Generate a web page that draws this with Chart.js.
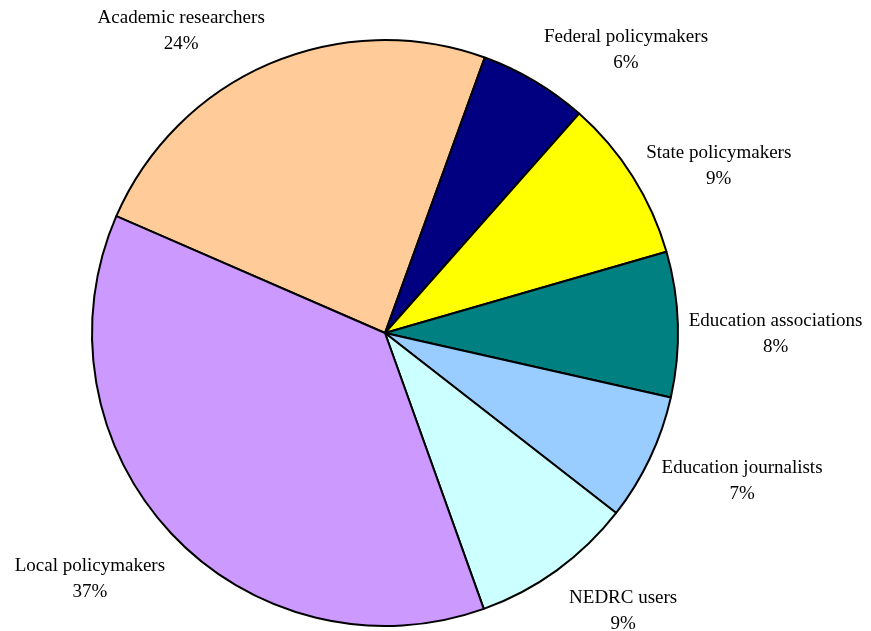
<!DOCTYPE html>
<html>
<head>
    <title>Audience breakdown</title>
    <script src="https://cdn.jsdelivr.net/npm/chart.js@4.4.1/dist/chart.umd.min.js"></script>
    <style>
        html, body {
            margin: 0;
            padding: 0;
            background-color: #ffffff;
        }
        .chart-container {
            position: relative;
            width: 871px;
            height: 631px;
        }
    </style>
</head>
<body>
    <div class="chart-container">
        <canvas id="audiencePie"></canvas>
    </div>

    <script>
        // Share of audience, in percent
        const categories = [
            'Academic researchers',
            'Federal policymakers',
            'State policymakers',
            'Education associations',
            'Education journalists',
            'NEDRC users',
            'Local policymakers'
        ];
        const shares = [24, 6, 9, 8, 7, 9, 37];
        const sliceColors = ['#FFCC99', '#000080', '#FFFF00', '#008080', '#99CCFF', '#CCFFFF', '#CC99FF'];

        // label placement: angle shift (deg) from slice middle, distance as a multiple of the radius
        const labelAngleShift = [-10.7, 9.7, 5.7, 1.9, -2.8, -4.7, 3.3];
        const labelDistance = [1.244, 1.269, 1.274, 1.333, 1.319, 1.249, 1.311];

        const outsideLabels = {
            id: 'outsideLabels',
            afterDatasetsDraw(chart) {
                const ctx = chart.ctx;
                const meta = chart.getDatasetMeta(0);
                ctx.save();
                ctx.font = '19px "Liberation Serif", "Times New Roman", serif';
                ctx.fillStyle = '#000000';
                ctx.textAlign = 'center';
                ctx.textBaseline = 'middle';
                meta.data.forEach((arc, i) => {
                    const p = arc.getProps(['x', 'y', 'startAngle', 'endAngle', 'outerRadius'], true);
                    const mid = (p.startAngle + p.endAngle) / 2 + labelAngleShift[i] * Math.PI / 180;
                    const r = p.outerRadius * labelDistance[i];
                    const cx = p.x + Math.cos(mid) * r;
                    const cy = p.y + Math.sin(mid) * r;
                    ctx.fillText(categories[i], cx, cy - 13);
                    ctx.fillText(shares[i] + '%', cx, cy + 13);
                });
                ctx.restore();
            }
        };

        new Chart(document.getElementById('audiencePie'), {
            type: 'pie',
            data: {
                labels: categories,
                datasets: [{
                    data: shares,
                    backgroundColor: sliceColors,
                    borderColor: '#000000',
                    borderWidth: 2
                }]
            },
            options: {
                responsive: true,
                maintainAspectRatio: false,
                animation: false,
                rotation: -66.5,
                radius: 293,
                layout: {
                    padding: { left: 0, right: 101, top: 35, bottom: 0 }
                },
                plugins: {
                    legend: { display: false },
                    tooltip: { enabled: false }
                }
            },
            plugins: [outsideLabels]
        });
    </script>
</body>
</html>
